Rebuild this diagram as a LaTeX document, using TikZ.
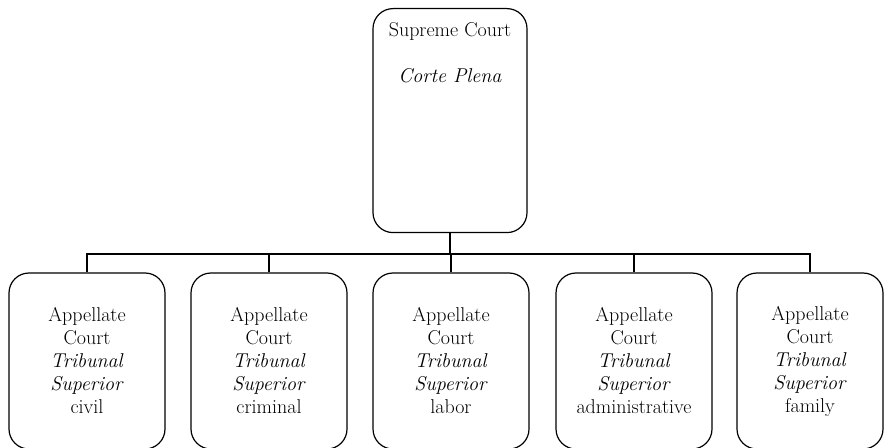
\documentclass[tikz,border=0pt]{standalone}
\usepackage{tikz}

\begin{document}
\begin{tikzpicture}[x=0.75pt,y=0.75pt,
  court/.style={draw,rectangle,rounded corners=15pt,line width=0.9pt,align=center,
    font=\fontsize{15}{17.25}\selectfont},
  link/.style={line width=2.2pt}]
\useasboundingbox (0,0) rectangle (885,447);
\node[court,minimum width=115.5pt,inner ysep=10.5pt,text depth=102pt,anchor=north] (sc) at (450,439) {Supreme Court\\[17.25pt]\textit{Corte Plena}};
\node[court,minimum width=117pt,minimum height=132pt] (civ) at (87,86) {Appellate\\Court\\\textit{Tribunal}\\\textit{Superior}\\civil};
\node[court,minimum width=117pt,minimum height=132pt] (cri) at (269,86) {Appellate\\Court\\\textit{Tribunal}\\\textit{Superior}\\criminal};
\node[court,minimum width=117pt,minimum height=132pt] (lab) at (451,86) {Appellate\\Court\\\textit{Tribunal}\\\textit{Superior}\\labor};
\node[court,minimum width=117pt,minimum height=132pt] (adm) at (634,86) {Appellate\\Court\\\textit{Tribunal}\\\textit{Superior}\\administrative};
\node[court,minimum width=109.5pt,minimum height=132pt] (fam) at (810,86) {Appellate\\Court\\\textit{Tribunal}\\\textit{Superior}\\family};
\coordinate (bus) at (450,193);
\draw[link] (sc.south) -- (bus);
\draw[link] (civ.north) |- (bus) -| (fam.north);
\draw[link] (cri.north) -- (cri.north |- bus);
\draw[link] (lab.north) -- (lab.north |- bus);
\draw[link] (adm.north) -- (adm.north |- bus);
\end{tikzpicture}
\end{document}
